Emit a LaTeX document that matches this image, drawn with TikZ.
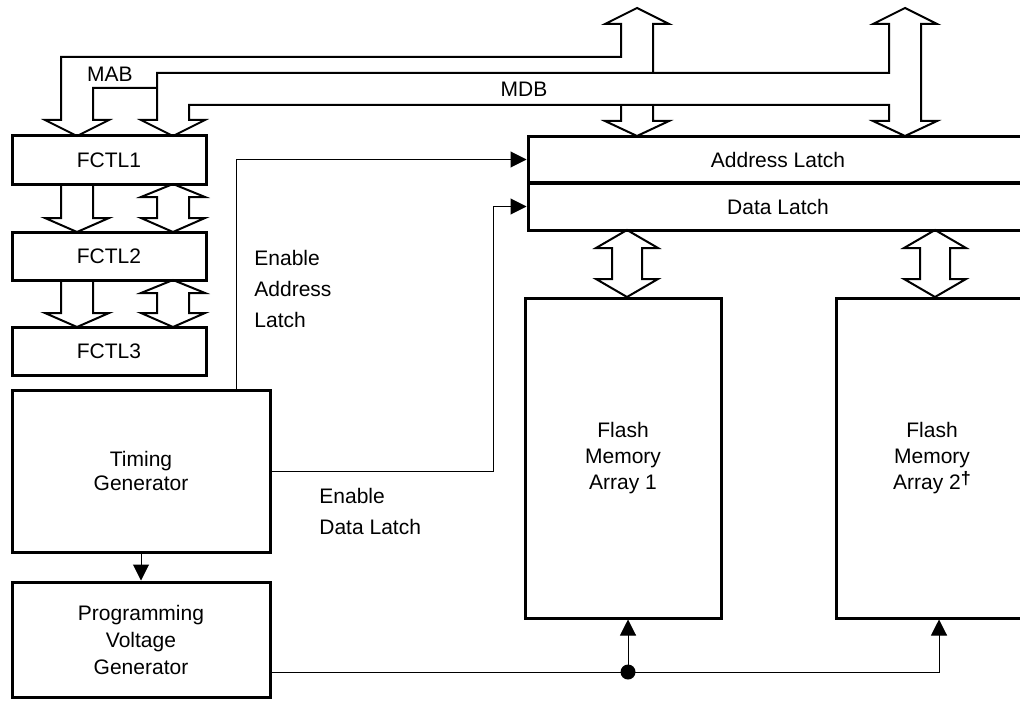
\documentclass[tikz,border=0pt]{standalone}
\usepackage{fontspec}
\setmainfont{Liberation Sans}
\usepackage{tikz}
\usetikzlibrary{arrows.meta, positioning, calc}

\begin{document}
\begin{tikzpicture}[x=0.5pt, y=-0.5pt,
  blk/.style={draw, line width=1.5pt, inner sep=0pt, align=center,
    font=\fontsize{10.5}{13}\selectfont},
  bus/.style={line width=1pt, line join=miter},
  sig/.style={line width=0.5pt},
  tip/.style={-{Triangle[length=8pt, width=8pt]}},
  lbl/.style={inner sep=0pt, align=left, font=\fontsize{10.5}{15.5}\selectfont}]
  \useasboundingbox (0,0) rectangle (1020,700);
  \clip (0,0) rectangle (1020,700);
  % Control registers
  \node[blk, minimum width=97pt, minimum height=24pt] (fctl1) at (109,160) {FCTL1};
  \node[blk, minimum width=97pt, minimum height=24pt] (fctl2) at (109,256) {FCTL2};
  \node[blk, minimum width=97pt, minimum height=24pt] (fctl3) at (109,351) {FCTL3};
  % Generators
  \node[blk, minimum width=129pt, minimum height=81pt,
        font=\fontsize{10.5}{12}\selectfont] (timing) at (141,471) {Timing\\Generator};
  \node[blk, minimum width=129pt, minimum height=57.5pt,
        font=\fontsize{10.5}{13.5}\selectfont] (progv) at (141,639.5) {Programming\\Voltage\\Generator};
  % Latches
  \node[blk, minimum width=250pt, minimum height=23pt] (alatch) at (778,159.5) {Address Latch};
  \node[blk, minimum width=250pt, minimum height=23.5pt] (dlatch) at (778,206.5) {Data Latch};
  % Memory arrays
  \node[blk, minimum width=98pt, minimum height=160pt] (array1) at (623,458) {Flash\\Memory\\Array 1};
  \node[blk, minimum width=96pt, minimum height=160pt] (array2) at (932,458)
    {Flash\\Memory\\Array 2\raisebox{0.45ex}{\fontsize{9}{9}\selectfont\bfseries\textdagger}};
  % Buses MAB and MDB
  \draw[bus] (157,88) -- (93,88) -- (93,120) -- (109,120) -- (77,136) -- (45,120)
    -- (61,120) -- (61,57) -- (621,57) -- (621,24) -- (605,24) -- (637,8)
    -- (669,24) -- (653,24) -- (653,73);
  \draw[bus] (157,73) -- (157,120) -- (141,120) -- (173,136) -- (205,120)
    -- (189,120) -- (189,105) -- (889,105) -- (889,121) -- (873,121) -- (905,136)
    -- (937,121) -- (921,121) -- (921,24) -- (937,24) -- (905,8) -- (873,24)
    -- (889,24) -- (889,73) -- cycle;
  \draw[bus] (621,105) -- (621,121) -- (605,121) -- (637,136) -- (669,121)
    -- (653,121) -- (653,105);
  \node[lbl] (mab) at (110,74) {MAB};
  \node[lbl] (mdb) at (524,89) {MDB};
  % Register to register
  \foreach \ya/\yb in {184/232, 280/327} {
    \draw[bus] (61,\ya) -- (61,\yb-14) -- (45,\yb-14) -- (77,\yb) -- (109,\yb-14)
      -- (93,\yb-14) -- (93,\ya);
    \draw[bus] (173,\ya) -- (205,\ya+13) -- (189,\ya+13) -- (189,\yb-14)
      -- (205,\yb-14) -- (173,\yb) -- (141,\yb-14) -- (157,\yb-14)
      -- (157,\ya+13) -- (141,\ya+13) -- cycle;
  }
  % Data latch to arrays
  \foreach \xc in {627, 935} {
    \draw[bus] (\xc,230) -- (\xc+31,248) -- (\xc+15,248) -- (\xc+15,279)
      -- (\xc+31,279) -- (\xc,297) -- (\xc-31,279) -- (\xc-15,279)
      -- (\xc-15,248) -- (\xc-31,248) -- cycle;
  }
  % Enable signals
  \coordinate (eal) at (236,0);
  \coordinate (edl) at (493,0);
  \draw[sig, tip] (timing.north -| eal) |- (alatch.west);
  \draw[sig, tip] (timing.east) -- (timing.east -| edl) |- (dlatch.west);
  \node[lbl, anchor=west] (ealtxt) at (254,289) {Enable\\Address\\Latch};
  \node[lbl, anchor=west] (edltxt) at (319,511) {Enable\\Data Latch};
  % Programming voltage
  \draw[sig, tip] (timing) -- (progv);
  \coordinate (jn) at (628,672);
  \draw[sig] (progv.east |- jn) -- (jn);
  \draw[sig, tip] (jn) -- (jn |- array1.south);
  \draw[sig, tip] (jn) -| ([xshift=3.5pt]array2.south);
  \fill (jn) circle[radius=3.75pt];
\end{tikzpicture}
\end{document}
